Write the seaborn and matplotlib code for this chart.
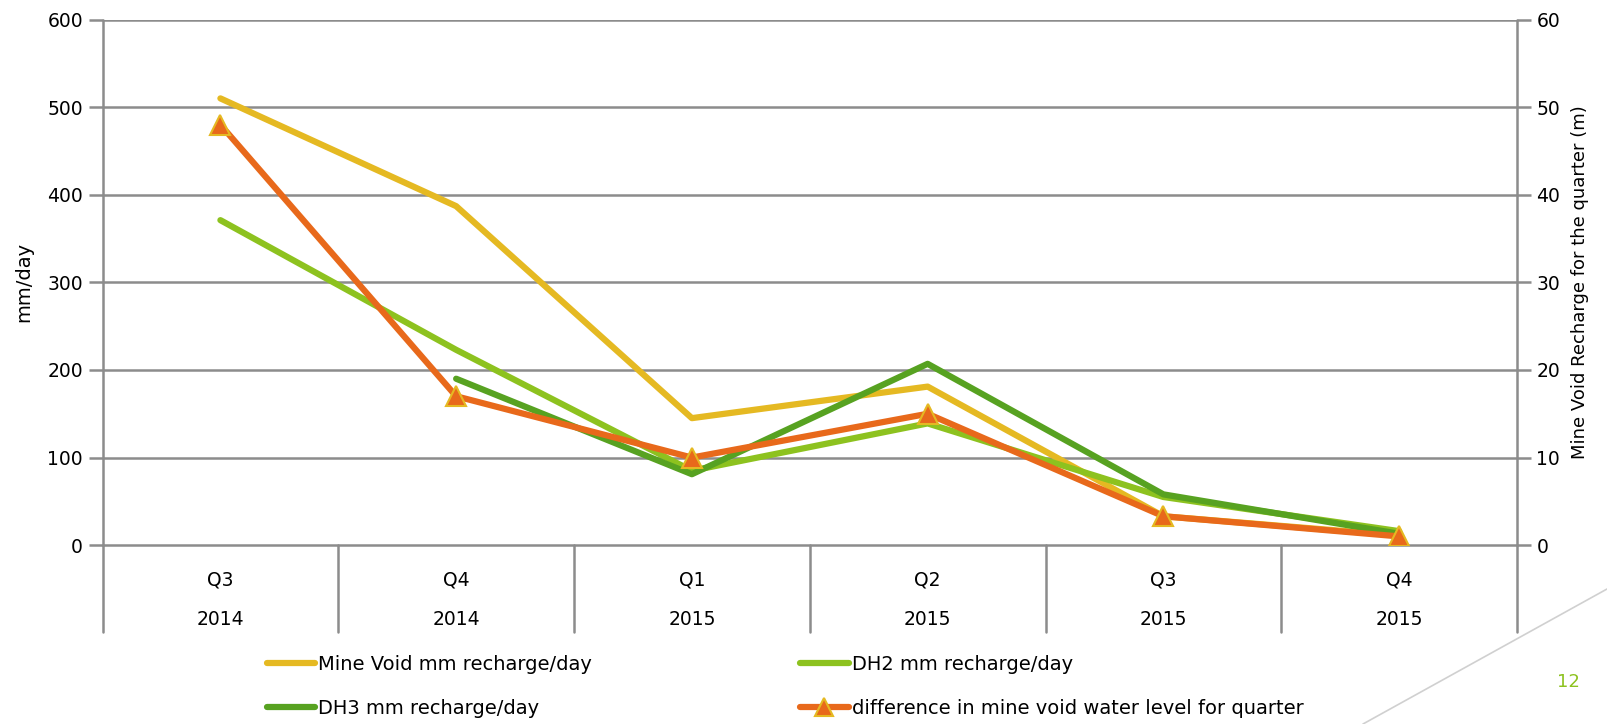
import matplotlib
matplotlib.use("Agg")
import matplotlib.pyplot as plt
import matplotlib.transforms as mtransforms
from matplotlib.lines import Line2D
import seaborn as sns
import numpy as np

quarters = ["Q3", "Q4", "Q1", "Q2", "Q3", "Q4"]
years = ["2014", "2014", "2015", "2015", "2015", "2015"]
mine_void = [510, 387, 145, 181, 33, 11]
dh2 = [371, 223, 85, 139, 55, 16]
dh3 = [None, 190, 81, 207, 58, 13]
diff_level = [48, 17, 10, 15, 3.3, 1.0]

sns.set_style("white")
plt.rcParams['font.family'] = ['DejaVu Sans']
plt.rcParams['text.color'] = 'black'
plt.rcParams['axes.labelcolor'] = 'black'
plt.rcParams['xtick.color'] = 'black'
plt.rcParams['ytick.color'] = 'black'

C_YEL = "#E5B922"
C_LG = "#8DC21F"
C_DG = "#57A221"
C_OR = "#E8691B"
GRID = "#8C8C8C"

fig = plt.figure(figsize=(16.07, 7.24), dpi=100)
ax = fig.add_axes([0.0638, 0.247, 0.8802, 0.726])
ax2 = ax.twinx()

x = np.arange(len(quarters))
lw = 4.5
sns.lineplot(x=x, y=mine_void, ax=ax, color=C_YEL, linewidth=lw)
sns.lineplot(x=x, y=dh2, ax=ax, color=C_LG, linewidth=lw)
dh3_arr = np.array([np.nan if v is None else v for v in dh3], dtype=float)
m = ~np.isnan(dh3_arr)
sns.lineplot(x=x[m], y=dh3_arr[m], ax=ax, color=C_DG, linewidth=lw)
sns.lineplot(x=x, y=diff_level, ax=ax2, color=C_OR, linewidth=lw,
             marker="^", markersize=15, markerfacecolor=C_OR,
             markeredgecolor=C_YEL, markeredgewidth=1.5)

ax.set_xlim(-0.5, 5.5)
ax.set_ylim(0, 600)
ax2.set_ylim(0, 60)
ax.set_yticks(range(0, 601, 100))
ax2.set_yticks(range(0, 61, 10))
ax.set_xticks([])
ax2.set_xticks([])

ax.grid(False)
for yv in range(100, 601, 100):
    ax.axhline(yv, color=GRID, linewidth=1.8, zorder=0)

for a in (ax, ax2):
    for s in ("top", "bottom", "left", "right"):
        a.spines[s].set_visible(False)

ax.tick_params(axis="y", which="both", left=True, length=10, width=1.8,
               color=GRID, labelcolor="black", labelsize=13.5, pad=4)
ax2.tick_params(axis="y", which="both", right=True, length=10, width=1.8,
                color=GRID, labelcolor="black", labelsize=13.5, pad=4)
ax.set_ylabel("mm/day", fontsize=14, labelpad=10)
ax2.set_ylabel("Mine Void Recharge for the quarter (m)", fontsize=13, labelpad=8)

# bottom axis line and category separators
trans = mtransforms.blended_transform_factory(ax.transData, ax.transAxes)
ax.plot([-0.5, 5.5], [0, 0], transform=trans, color=GRID, linewidth=1.8, clip_on=False)
sep_bottom = -0.166
for xv in np.arange(-0.5, 6.0, 1.0):
    ax.plot([xv, xv], [0, sep_bottom], transform=trans, color=GRID,
            linewidth=1.8, clip_on=False)
ax.plot([-0.5, -0.5], [0, 1], transform=trans, color=GRID, linewidth=1.8, clip_on=False)
ax.plot([5.5, 5.5], [0, 1], transform=trans, color=GRID, linewidth=1.8, clip_on=False)

for i, (q, yr) in enumerate(zip(quarters, years)):
    ax.text(i, -0.066, q, transform=trans, ha="center", va="center", fontsize=13.5)
    ax.text(i, -0.142, yr, transform=trans, ha="center", va="center", fontsize=13.5)

handles = [
    Line2D([], [], color=C_YEL, linewidth=lw),
    Line2D([], [], color=C_LG, linewidth=lw),
    Line2D([], [], color=C_DG, linewidth=lw),
    Line2D([], [], color=C_OR, linewidth=lw, marker="^", markersize=13,
           markerfacecolor=C_OR, markeredgecolor=C_YEL, markeredgewidth=1.5),
]
labels = ["Mine Void mm recharge/day", "DH2 mm recharge/day",
          "DH3 mm recharge/day", "difference in mine void water level for quarter"]
order = [0, 2, 1, 3]
fig.legend([handles[i] for i in order], [labels[i] for i in order],
           ncol=2, loc="center left", bbox_to_anchor=(0.155, 0.052),
           frameon=False, fontsize=14, handlelength=2.5, handletextpad=0.15,
           columnspacing=10.7, labelspacing=1.25)

# decorative elements
fig.add_artist(Line2D([1363 / 1607, 1.0], [0.0, 1 - 589 / 724],
                      transform=fig.transFigure, color="#D0D0D0", linewidth=1.2))
fig.text(1568 / 1607, 1 - 682 / 724, "12", color=C_LG, fontsize=13,
         ha="center", va="center")

fig.savefig("out.png", dpi=100)
